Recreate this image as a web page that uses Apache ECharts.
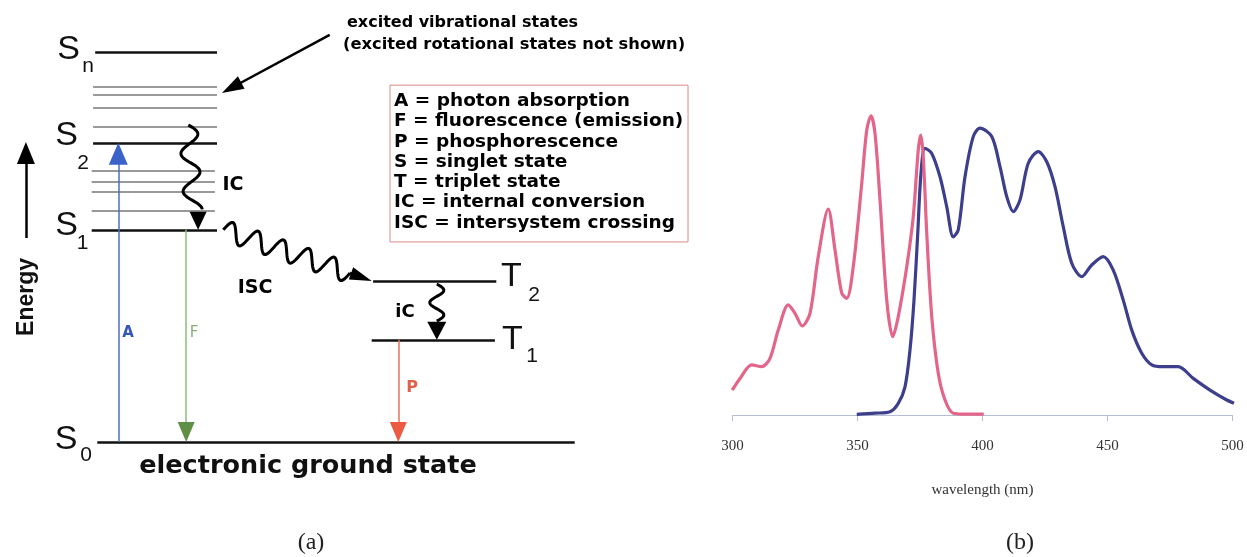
<!DOCTYPE html>
<html>
<head>
<meta charset="utf-8">
<script src="https://cdn.jsdelivr.net/npm/echarts@6/dist/echarts.min.js"></script>
<style>
html,body{margin:0;padding:0;background:#fff}
#main{width:1247px;height:557px}
</style>
</head>
<body>
<div id="main"></div>
<script>
// ---------- (b) absorption / emission spectra ----------
var absWavelength = [299.9, 303, 307.7, 311.7, 315, 318.3, 322.3, 325, 327.9, 331, 334.3, 338.3, 341, 343.7, 345.7, 348.3, 351.7, 353.7, 355.4, 357, 359, 361.7, 364.1, 366.3, 369.7, 372.3, 374.3, 375.3, 376.3, 377.7, 379.7, 382.3, 385, 388.3, 394.3, 400.5];
var absIntensity = [0.083, 0.122, 0.167, 0.161, 0.189, 0.283, 0.367, 0.339, 0.297, 0.339, 0.528, 0.686, 0.55, 0.406, 0.389, 0.494, 0.772, 0.95, 0.997, 0.939, 0.717, 0.383, 0.261, 0.328, 0.494, 0.661, 0.883, 0.933, 0.861, 0.606, 0.328, 0.139, 0.05, 0.006, 0.003, 0.003];
var emWavelength = [349.7, 357, 363, 366.3, 369, 371, 372.6, 374.1, 375.4, 377, 379.7, 383, 385.7, 388.3, 390.3, 393, 396.3, 399, 403.7, 407, 409.7, 412.3, 415, 418.3, 422.3, 425.7, 429, 432.3, 435.7, 439.7, 443.7, 448.3, 452.3, 456.3, 459.7, 463.7, 467.7, 472.3, 478.3, 484.3, 491, 497.7, 500.6];
var emIntensity = [0.002, 0.006, 0.011, 0.039, 0.094, 0.217, 0.383, 0.606, 0.806, 0.889, 0.872, 0.794, 0.694, 0.594, 0.617, 0.794, 0.928, 0.956, 0.928, 0.828, 0.728, 0.678, 0.717, 0.839, 0.878, 0.844, 0.761, 0.628, 0.506, 0.461, 0.5, 0.528, 0.483, 0.383, 0.283, 0.206, 0.167, 0.161, 0.161, 0.122, 0.083, 0.05, 0.039];
var wlTicks = [300, 350, 400, 450, 500];

// ---------- (a) Jablonski diagram (arbitrary x units, arbitrary energy units) ----------
var levelNames = ['S', 'S', 'S', 'S', 'T', 'T'];
var levelSubs = ['n', '2', '1', '0', '2', '1'];
var levelEnergy = [100, 76.7, 54.4, 0, 41.3, 26.2];
var levelStart = [13.6, 13.3, 13.1, 13.9, 53.3, 53.1];
var levelEnd = [31.0, 31.0, 31.0, 82.1, 70.9, 70.7];
var vibEnergy = [91.0, 89.0, 85.6, 80.8, 69.5, 66.7, 64.1, 59.2];
var vibStart = [13.3, 13.3, 13.3, 13.3, 13.1, 13.1, 13.1, 13.1];
var vibEnd = [31.0, 31.0, 31.0, 31.0, 30.7, 30.7, 30.7, 30.7];
var radNames = ['A', 'F', 'P'];
var radX = [16.9, 26.6, 56.9];
var radFrom = [0, 54.4, 26.2];
var radTo = [76.7, 0, 0];
var legendLines = ['A = photon absorption', 'F = fluorescence (emission)', 'P = phosphorescence',
  'S = singlet state', 'T = triplet state', 'IC = internal conversion', 'ISC = intersystem crossing'];

// pixel size of one diagram unit (grid width / x range, grid height / y range)
var DX = 700 / 100, DY = 538.2 / 138;

function squiggle(p0, p1, waves, amp) {
  var dx = (p1[0] - p0[0]) * DX, dy = (p1[1] - p0[1]) * DY;
  var L = Math.sqrt(dx * dx + dy * dy), nx = -dy / L, ny = dx / L;
  var pts = [];
  for (var i = 0; i <= 160; i++) {
    var t = i / 160, s = amp * Math.sin(2 * Math.PI * waves * t);
    pts.push([p0[0] + (dx * t + nx * s) / DX, p0[1] + (dy * t + ny * s) / DY]);
  }
  return pts;
}
// triangle head whose tip sits on "tip", pointing away from "from"
function head(tip, from, w, len, color) {
  var dx = (tip[0] - from[0]) * DX, dy = (tip[1] - from[1]) * DY;
  var L = Math.sqrt(dx * dx + dy * dy), ux = dx / L, uy = dy / L;
  return {
    value: [tip[0] - ux * len / 2 / DX, tip[1] - uy * len / 2 / DY],
    symbolSize: [w, len],
    symbolRotate: Math.atan2(-ux, uy) * 180 / Math.PI,
    itemStyle: {color: color}
  };
}

var lineColors = ['#4a6fc6', '#8bbb78', '#e8735e'];
var headColors = ['#3a62c8', '#5f8f45', '#ec5a44'];
var txtColors = ['#3558b8', '#8aad78', '#e0604c'];

var levelLines = [], vibLines = [], radLines = [], heads = [], waves = [], texts = [];
levelEnergy.forEach(function (e, i) {
  levelLines.push({coords: [[levelStart[i], e], [levelEnd[i], e]]});
});
vibEnergy.forEach(function (e, i) {
  vibLines.push({coords: [[vibStart[i], e], [vibEnd[i], e]]});
});
radNames.forEach(function (n, i) {
  var tip = [radX[i], radTo[i]], from = [radX[i], radFrom[i]];
  var h = head(tip, from, i === 0 ? 19 : 17, i === 0 ? 22 : 20, headColors[i]);
  radLines.push({coords: [from, h.value], lineStyle: {color: lineColors[i]}});
  heads.push(h);
});

// energy axis arrow
var eTip = [3.7, 76.9], eFrom = [3.7, 52.3];
var eh = head(eTip, eFrom, 18, 22, '#000');
radLines.push({coords: [eFrom, eh.value], lineStyle: {color: '#000', width: 2.5}});
heads.push(eh);
// pointer to vibrational states
var pTip = [31.7, 89.5], pFrom = [47.1, 104.4];
var ph = head(pTip, pFrom, 14, 22, '#000');
radLines.push({coords: [pFrom, ph.value], lineStyle: {color: '#000', width: 2.5}});
heads.push(ph);

// IC S2 -> S1
waves.push({coords: squiggle([26.9, 81.3], [27.6, 59.5], 2.25, 9)});
heads.push(head([28.3, levelEnergy[2]], [28.3, 60], 17, 18, '#000'));
// ISC S1 -> T2
waves.push({coords: squiggle([31.9, levelEnergy[2]], [50.0, 43.3], 5, 10)});
heads.push(head([53.1, levelEnergy[4]], [50.0, 43.3], 13, 22, '#000'));
waves.push({coords: [[50.0, 43.3], [51.6, 42.6]]});
// IC T2 -> T1
waves.push({coords: squiggle([62.4, 40.5], [62.4, 31.0], 1.5, 7)});
heads.push(head([62.4, levelEnergy[5]], [62.4, 31], 19, 18, '#000'));

function txt(text, x, y, style, pos) {
  texts.push({value: [x, y], label: Object.assign({
    show: true, formatter: text, position: pos || 'inside', distance: 0,
    color: '#000', fontFamily: 'DejaVu Sans', fontWeight: 'bold', fontSize: 18
  }, style)});
}
var bigFont = {fontFamily: 'Liberation Sans', fontWeight: 'normal', fontSize: 34, color: '#111'};
var subFont = {fontFamily: 'Liberation Sans', fontWeight: 'normal', fontSize: 21, color: '#111'};
var labelAt = [[9.79, 100.6, 12.57, 96.4], [9.5, 78.6, 11.86, 71.5], [9.5, 55.4, 11.79, 50.9],
  [9.43, 0.5, 12.29, -3.3], [73.07, 42.4, 76.29, 37.7], [73.21, 26.2, 76.0, 22.1]];
levelNames.forEach(function (n, i) {
  txt(n, labelAt[i][0], labelAt[i][1], bigFont);
  txt(levelSubs[i], labelAt[i][2], labelAt[i][3], subFont);
});
txt('Energy', 3.86, 37.2, {fontFamily: 'Liberation Sans', fontSize: 23, rotate: 90, color: '#111'});
txt('electronic ground state', 44, -6.2, {fontSize: 25.5, color: '#111'});
txt('IC', 33.29, 65.9, {fontSize: 19});
txt('ISC', 36.43, 39.5, {fontSize: 19});
txt('iC', 57.86, 33.3, {fontSize: 18});
txt(radNames[0], 18.29, 27.9, {fontSize: 15, color: txtColors[0]});
txt(radNames[1], 27.71, 27.9, {fontSize: 15, fontWeight: 'normal', color: txtColors[1]});
txt(radNames[2], 58.86, 13.8, {fontSize: 16, color: txtColors[2]});
txt('excited vibrational states', 49.57, 107.4, {fontSize: 16}, 'right');
txt('(excited rotational states not shown)', 49.0, 101.8, {fontSize: 16.3}, 'right');
legendLines.forEach(function (s, i) {
  txt(s, 56.29, 87.4 - 5.2 * i, {fontSize: 18.5}, 'right');
});

function zip(xs, ys) {
  return xs.map(function (x, i) { return [x, ys[i]]; });
}

var chart = echarts.init(document.getElementById('main'));
chart.setOption({
  animation: false,
  backgroundColor: '#fff',
  grid: [
    {left: 0, top: 13, width: 700, height: 538.2},
    {left: 732.5, top: 115, width: 500, height: 300}
  ],
  xAxis: [
    {gridIndex: 0, type: 'value', min: 0, max: 100, show: false},
    {
      gridIndex: 1, type: 'value', min: 300, max: 500, interval: 50,
      splitLine: {show: false},
      axisLine: {lineStyle: {color: '#b7bed4', width: 1}},
      axisTick: {length: 6, lineStyle: {color: '#b7bed4'}},
      axisLabel: {margin: 24, fontFamily: 'Liberation Serif', fontSize: 15, color: '#333',
        customValues: wlTicks},
      name: 'wavelength (nm)', nameLocation: 'middle', nameGap: 68,
      nameTextStyle: {fontFamily: 'Liberation Serif', fontSize: 15, color: '#333'}
    }
  ],
  yAxis: [
    {gridIndex: 0, type: 'value', min: -28, max: 110, show: false},
    {gridIndex: 1, type: 'value', min: 0, max: 1, show: false}
  ],
  graphic: [
    {type: 'text', x: 311, y: 543, style: {text: '(a)', font: '24px "Liberation Serif"', fill: '#222',
      textAlign: 'center', textVerticalAlign: 'middle'}},
    {type: 'text', x: 1020, y: 543, style: {text: '(b)', font: '24px "Liberation Serif"', fill: '#222',
      textAlign: 'center', textVerticalAlign: 'middle'}}
  ],
  series: [
    {
      name: 'emission', type: 'line', xAxisIndex: 1, yAxisIndex: 1,
      data: zip(emWavelength, emIntensity), showSymbol: false, smooth: 0.3,
      lineStyle: {color: '#3d3f8c', width: 3.2}, silent: true
    },
    {
      name: 'absorption', type: 'line', xAxisIndex: 1, yAxisIndex: 1,
      data: zip(absWavelength, absIntensity), showSymbol: false, smooth: 0.3,
      lineStyle: {color: '#e3658a', width: 3.2}, silent: true
    },
    {
      name: 'vibrational', type: 'lines', coordinateSystem: 'cartesian2d', xAxisIndex: 0, yAxisIndex: 0,
      data: vibLines, lineStyle: {color: '#999', width: 2, opacity: 1}, silent: true,
      markArea: {
        silent: true,
        itemStyle: {color: 'rgba(0,0,0,0)', borderColor: '#d98a8a', borderWidth: 1},
        data: [[{coord: [55.71, 91.5]}, {coord: [98.29, 51.3]}]]
      }
    },
    {
      name: 'levels', type: 'lines', coordinateSystem: 'cartesian2d', xAxisIndex: 0, yAxisIndex: 0,
      data: levelLines, lineStyle: {color: '#111', width: 2.5, opacity: 1}, silent: true
    },
    {
      name: 'transitions', type: 'lines', coordinateSystem: 'cartesian2d', xAxisIndex: 0, yAxisIndex: 0,
      data: radLines, lineStyle: {width: 1.5, opacity: 1}, silent: true
    },
    {
      name: 'nonradiative', type: 'lines', coordinateSystem: 'cartesian2d', xAxisIndex: 0, yAxisIndex: 0,
      polyline: true, data: waves, lineStyle: {color: '#000', width: 3, opacity: 1}, silent: true
    },
    {
      name: 'heads', type: 'scatter', xAxisIndex: 0, yAxisIndex: 0, symbol: 'triangle',
      itemStyle: {opacity: 1}, data: heads, silent: true
    },
    {
      name: 'text', type: 'scatter', xAxisIndex: 0, yAxisIndex: 0, symbolSize: 0,
      itemStyle: {opacity: 1}, data: texts, silent: true
    }
  ]
});
</script>
</body>
</html>
